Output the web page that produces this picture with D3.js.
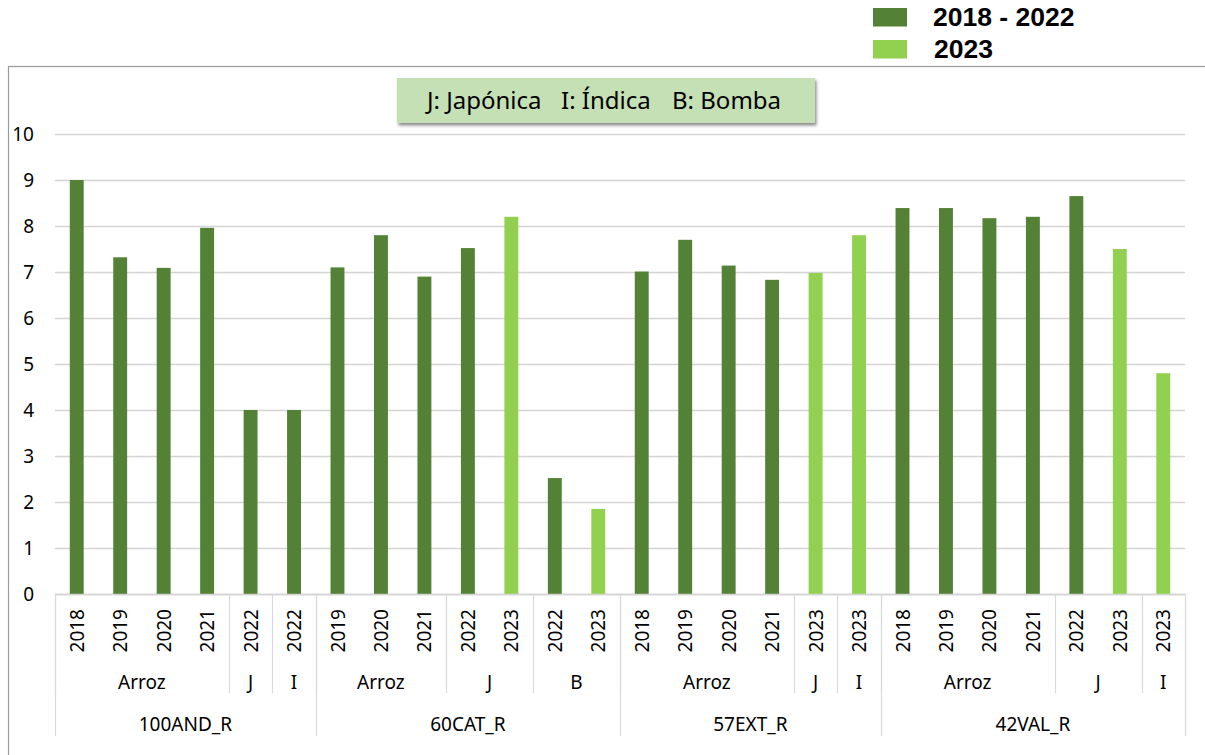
<!DOCTYPE html>
<html>
<head>
<meta charset="utf-8">
<script src="https://cdn.jsdelivr.net/npm/d3@7"></script>
<style>
  html, body { margin: 0; padding: 0; background: #fff; }
  svg { display: block; }
  text { font-family: "Noto Sans", "Open Sans", sans-serif; fill: #000; }
</style>
</head>
<body>
<svg id="chart" width="1205" height="755"></svg>
<script>
// ---- Data ----
const years = ["2018","2019","2020","2021","2022","2022",
               "2019","2020","2021","2022","2023","2022","2023",
               "2018","2019","2020","2021","2023","2023",
               "2018","2019","2020","2021","2022","2023","2023"];
const types = ["Arroz","Arroz","Arroz","Arroz","J","I",
               "Arroz","Arroz","Arroz","J","J","B","B",
               "Arroz","Arroz","Arroz","Arroz","J","I",
               "Arroz","Arroz","Arroz","Arroz","J","J","I"];
const regions = ["100AND_R","100AND_R","100AND_R","100AND_R","100AND_R","100AND_R",
                 "60CAT_R","60CAT_R","60CAT_R","60CAT_R","60CAT_R","60CAT_R","60CAT_R",
                 "57EXT_R","57EXT_R","57EXT_R","57EXT_R","57EXT_R","57EXT_R",
                 "42VAL_R","42VAL_R","42VAL_R","42VAL_R","42VAL_R","42VAL_R","42VAL_R"];
const values = [9.0, 7.32, 7.09, 7.96, 4.0, 4.0,
                7.1, 7.8, 6.9, 7.52, 8.2, 2.52, 1.85,
                7.01, 7.7, 7.14, 6.83, 6.98, 7.8,
                8.39, 8.39, 8.17, 8.2, 8.65, 7.5, 4.8];
const seriesNames = ["2018 - 2022", "2023"];
const seriesColors = ["#538135", "#92d050"];
const yTicks = [0,1,2,3,4,5,6,7,8,9,10];
const noteParts = ["J: Japónica", "I: Índica", "B: Bomba"];

// series of each bar: 2023 -> light series
const barSeries = years.map(y => y === "2023" ? 1 : 0);

// ---- Layout ----
const svg = d3.select("#chart");
const pLeft = 55, pRight = 1185, pTop = 134, pBottom = 594;
const row1Bottom = 693, row3Bottom = 736;
const axisFont = "19px";

const x = d3.scaleBand().domain(d3.range(years.length)).range([pLeft, pRight])
  .paddingInner(0.68).paddingOuter(0.34);
const y = d3.scaleLinear().domain([0, 10]).range([pBottom, pTop]);
const color = d3.scaleOrdinal().domain([0, 1]).range(seriesColors);

// chart border
svg.append("rect").attr("x", 8.5).attr("y", 66.5).attr("width", 1300).attr("height", 800)
  .attr("fill", "none").attr("stroke", "#9a9a9a").attr("stroke-width", 1.2);

// gridlines
const grid = svg.append("g").attr("transform", `translate(${pLeft},0)`)
  .call(d3.axisLeft(y).tickValues(yTicks).tickSize(-(pRight - pLeft)).tickFormat(""));
grid.select(".domain").remove();
grid.selectAll("line").attr("stroke", "#d4d4d4").attr("stroke-width", 1.3);

// y axis labels
const yAxis = svg.append("g").attr("transform", `translate(${pLeft},0)`)
  .call(d3.axisLeft(y).tickValues(yTicks).tickSize(0).tickPadding(21).tickFormat(d3.format("d")));
yAxis.select(".domain").remove();
yAxis.selectAll("text").style("font-size", axisFont).attr("font-family", "Noto Sans");

// bars
svg.append("g").selectAll("rect").data(values).join("rect")
  .attr("x", (d, i) => x(i))
  .attr("width", x.bandwidth())
  .attr("y", d => y(d))
  .attr("height", d => y(0) - y(d))
  .attr("fill", (d, i) => color(barSeries[i]));

// x axis baseline
svg.append("line").attr("x1", pLeft).attr("x2", pRight).attr("y1", pBottom + 0.5).attr("y2", pBottom + 0.5)
  .attr("stroke", "#d4d4d4").attr("stroke-width", 1.3);

// year labels (rotated)
svg.append("g").selectAll("text").data(years).join("text")
  .attr("transform", (d, i) => `translate(${x(i) + x.bandwidth() / 2},609) rotate(-90)`)
  .attr("text-anchor", "end").attr("dominant-baseline", "central")
  .style("font-size", axisFont).text(d => d);

// grouping helpers
function runs(keyFn) {
  const out = [];
  for (let i = 0; i < years.length; i++) {
    const k = keyFn(i);
    if (out.length && out[out.length - 1].key === k) out[out.length - 1].end = i;
    else out.push({ key: k, start: i, end: i });
  }
  return out;
}
function boundary(i) { return pLeft + (pRight - pLeft) * i / years.length; }

const subRuns = runs(i => regions[i] + "|" + types[i]);
const regRuns = runs(i => regions[i]);

const sepG = svg.append("g").attr("stroke", "#d9d9d9").attr("stroke-width", 1.2);
subRuns.forEach(r => {
  const bxp = Math.round(boundary(r.start)) + 0.5;
  sepG.append("line").attr("x1", bxp).attr("x2", bxp).attr("y1", pBottom).attr("y2", row1Bottom);
});
regRuns.forEach(r => {
  const bxp = Math.round(boundary(r.start)) + 0.5;
  sepG.append("line").attr("x1", bxp).attr("x2", bxp).attr("y1", pBottom).attr("y2", row3Bottom);
});
sepG.append("line").attr("x1", pRight + 0.5).attr("x2", pRight + 0.5).attr("y1", pBottom).attr("y2", row3Bottom);

// subgroup labels
svg.append("g").selectAll("text").data(subRuns).join("text")
  .attr("x", r => (boundary(r.start) + boundary(r.end + 1)) / 2)
  .attr("y", 689).attr("text-anchor", "middle")
  .style("font-size", axisFont).text(r => r.key.split("|")[1]);

// region labels
svg.append("g").selectAll("text").data(regRuns).join("text")
  .attr("x", r => (boundary(r.start) + boundary(r.end + 1)) / 2)
  .attr("y", 731).attr("text-anchor", "middle")
  .style("font-size", axisFont).text(r => r.key);

// note box with shadow
const defs = svg.append("defs");
const f = defs.append("filter").attr("id", "shadow").attr("x", "-10%").attr("y", "-30%").attr("width", "120%").attr("height", "170%");
f.append("feDropShadow").attr("dx", 1.5).attr("dy", 2.5).attr("stdDeviation", 1.6)
  .attr("flood-color", "#000").attr("flood-opacity", 0.45);
svg.append("rect").attr("x", 397).attr("y", 78).attr("width", 418).attr("height", 45)
  .attr("fill", "#c5e0b4").attr("filter", "url(#shadow)");
const noteX = [427, 561, 672];
svg.append("g").selectAll("text").data(noteParts).join("text")
  .attr("x", (d, i) => noteX[i]).attr("y", 109)
  .style("font-size", "24px").text(d => d);

// legend
const leg = svg.append("g").selectAll("g").data(seriesNames).join("g")
  .attr("transform", (d, i) => `translate(873,${8 + i * 32})`);
leg.append("rect").attr("width", 34).attr("height", 18.5).attr("fill", (d, i) => seriesColors[i]);
leg.append("text").attr("x", (d, i) => i === 0 ? 60 : 61).attr("y", 18)
  .style("font-family", "'Liberation Sans', Arial, sans-serif").style("font-weight", "bold")
  .style("font-size", "26.5px").text(d => d);
</script>
</body>
</html>
